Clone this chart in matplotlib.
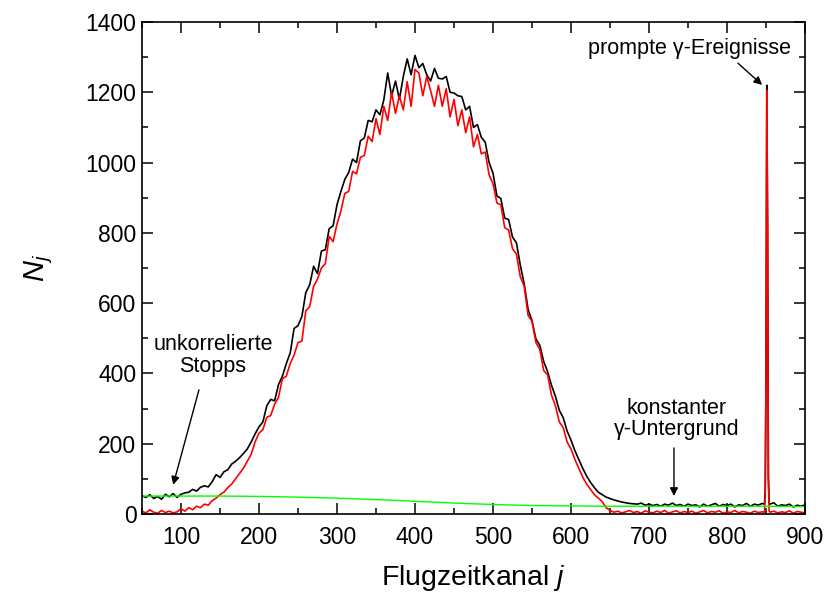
import numpy as np
import matplotlib
matplotlib.use('Agg')
import matplotlib.pyplot as plt
from matplotlib.ticker import MultipleLocator

plt.rcParams['font.family'] = ['Liberation Sans', 'DejaVu Sans']
plt.rcParams['mathtext.fontset'] = 'custom'
plt.rcParams['mathtext.rm'] = 'Liberation Sans'
plt.rcParams['mathtext.it'] = 'Liberation Sans:italic'

# Kanäle: alle 5 Kanäle, im Bereich des prompten Peaks kanalweise
kanal = np.concatenate([np.arange(50, 850, 5),
                        [848, 849, 850, 851, 852, 853, 854],
                        np.arange(855, 901, 5)])

# gemessenes Spektrum (schwarz)
n_gemessen = [
    52, 47, 55, 44, 50, 42, 56, 49, 58, 47,
    56, 60, 62, 70, 65, 76, 80, 77, 92, 112,
    104, 120, 126, 142, 150, 160, 172, 185, 205, 228,
    248, 262, 308, 326, 322, 368, 392, 428, 458, 528,
    536, 562, 630, 652, 705, 684, 748, 752, 812, 820,
    880, 918, 952, 972, 1010, 1000, 1062, 1070, 1120, 1116,
    1150, 1136, 1178, 1255, 1190, 1232, 1180, 1245, 1295, 1250,
    1305, 1270, 1282, 1250, 1232, 1268, 1240, 1238, 1245, 1200,
    1198, 1190, 1188, 1150, 1160, 1100, 1108, 1072, 1058, 1000,
    970, 905, 898, 842, 838, 788, 772, 708, 655, 582,
    550, 498, 480, 434, 405, 366, 335, 295, 274, 236,
    210, 180, 155, 130, 108, 90, 75, 62, 55, 48,
    44, 40, 37, 34, 32, 30, 29, 28, 31, 25,
    28, 24, 27, 22, 28, 25, 31, 24, 27, 22,
    28, 24, 26, 20, 28, 22, 26, 30, 22, 27,
    24, 28, 20, 26, 24, 30, 22, 28, 25, 30,
    28, 68, 415, 1220, 818, 111, 30,
    28, 32, 22, 26, 24, 28, 20, 25, 22, 26,
]

# korrigiertes Spektrum (rot)
n_korrigiert = [
    8, 3, 12, 5, 2, 10, 4, 8, 3, 6,
    15, 8, 18, 12, 22, 18, 28, 25, 38, 45,
    55, 62, 75, 85, 100, 115, 130, 150, 170, 205,
    230, 240, 275, 280, 312, 332, 385, 392, 428, 452,
    488, 492, 578, 590, 648, 668, 700, 712, 790, 775,
    825, 862, 912, 918, 975, 968, 1015, 1020, 1075, 1060,
    1125, 1080, 1160, 1120, 1200, 1140, 1190, 1150, 1230, 1160,
    1265, 1255, 1190, 1245, 1205, 1160, 1220, 1160, 1210, 1130,
    1180, 1105, 1150, 1085, 1130, 1045, 1080, 1025, 1030, 965,
    940, 885, 880, 815, 808, 755, 740, 675, 648, 565,
    548, 488, 468, 408, 396, 338, 308, 262, 246, 205,
    185, 155, 130, 105, 85, 70, 55, 45, 35, 18,
    10, 5, 8, 3, 6, 10, 4, 7, 2, 9,
    5, 3, 8, 4, 10, 2, 6, 9, 3, 7,
    4, 8, 2, 6, 10, 3, 7, 5, 9, 2,
    6, 4, 10, 3, 7, 5, 2, 8, 4, 6,
    5, 50, 400, 1205, 815, 100, 8,
    5, 8, 3, 6, 4, 9, 2, 7, 5, 3,
]

# Untergrund (grün)
kanal_ug = [50, 100, 150, 200, 250, 300, 350, 400, 450, 500, 550, 600,
            650, 700, 750, 800, 850, 900]
n_ug = [51, 51, 51, 50, 48, 45, 41, 36, 31, 27, 24, 23, 22, 22, 22, 22, 22, 21]

fig = plt.figure(figsize=(8.26, 5.92), dpi=100)
ax = fig.add_axes([0.1719, 0.1318, 0.8027, 0.831])

ax.plot(kanal, n_gemessen, color='black', lw=1.2)
ax.plot(kanal, n_korrigiert, color='#ff0000', lw=1.2)
ax.plot(kanal_ug, n_ug, color='#00ff00', lw=1.0)

ax.set_xlim(50, 900)
ax.set_ylim(0, 1400)
ax.xaxis.set_major_locator(MultipleLocator(100))
ax.xaxis.set_minor_locator(MultipleLocator(50))
ax.yaxis.set_major_locator(MultipleLocator(200))
ax.yaxis.set_minor_locator(MultipleLocator(100))
ax.tick_params(which='both', direction='in', top=True, right=True,
               labelsize=16.5, width=1.1)
ax.tick_params(which='major', length=8)
ax.tick_params(which='minor', length=4)
ax.tick_params(axis='x', pad=9)
ax.tick_params(axis='y', pad=4)
for s in ax.spines.values():
    s.set_linewidth(1.2)

ax.set_xlabel(r'Flugzeitkanal $j$', fontsize=20.5, labelpad=10)
ax.set_ylabel(r'$N_j$', fontsize=21, labelpad=22)

pfeil = dict(arrowstyle='-|>', color='black', lw=1.0, mutation_scale=12,
             shrinkA=0, shrinkB=0)
fs = 15.5
ax.text(752, 1326, 'prompte γ-Ereignisse', fontsize=fs, ha='center', va='center')
ax.annotate('', xy=(845, 1221), xytext=(814, 1283), arrowprops=pfeil)

ax.text(141, 452, 'unkorrelierte\nStopps', fontsize=fs, ha='center',
        va='center', linespacing=1.05)
ax.annotate('', xy=(90, 83), xytext=(123, 353), arrowprops=pfeil)

ax.text(735, 270, 'konstanter\nγ-Untergrund', fontsize=fs, ha='center',
        va='center', linespacing=1.05)
ax.annotate('', xy=(732, 51), xytext=(732, 188), arrowprops=pfeil)

fig.savefig('out.png', dpi=100)
